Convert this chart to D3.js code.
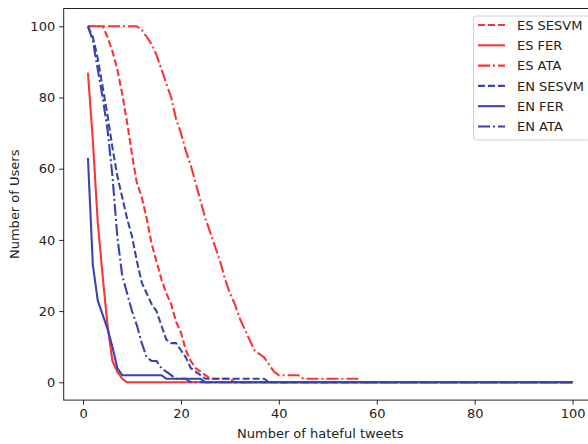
<!DOCTYPE html>
<html>
<head>
<meta charset="utf-8">
<script src="https://cdn.jsdelivr.net/npm/d3@7"></script>
<style>
  body { margin: 0; background: #fff; }
  svg { display: block; font-family: "DejaVu Sans", sans-serif; }
</style>
</head>
<body>
<div id="plot"></div>
<script>
// [tweets, users] points; straight segments between them
const esSesvm = [[1,100],[4,100],[5,97],[6,93],[7,88],[8,81],[9,73],[10,64],[11,56],[12,52],[13,46],[14,39],[15,34],[16,29],[17,25],[18,22],[19,17],[20,14],[21,9],[22,6],[23,4],[24,3],[25,2],[26,1],[30,1],[31,0],[100,0]];
const esFer = [[1,87],[2,68],[3,45],[4,30],[5,16],[6,6],[7,3],[8,1],[9,0],[100,0]];
const esAta = [[1,100],[11,100],[12,99],[13,97],[14,95],[15,92],[16,88],[17,84],[18,80],[19,74],[20,70],[21,65],[22,61],[23,56],[24,51],[25,46],[26,42],[27,38],[28,34],[29,29],[30,25],[31,22],[32,18],[33,15],[34,12],[35,9],[36,8],[37,7],[38,5],[39,3],[40,2],[44,2],[45,1],[56,1],[57,0],[100,0]];
const enSesvm = [[1,100],[2,97],[3,91],[4,83],[5,75],[6,66],[7,58],[8,52],[9,46],[10,41],[11,34],[12,28],[13,25],[14,22],[15,20],[16,16],[17,12],[18,11],[19,11],[20,9],[21,7],[22,4],[23,3],[24,2],[25,1],[37,1],[38,0],[100,0]];
const enFer = [[1,63],[2,33],[3,23],[4,19],[5,15],[6,10],[7,4],[8,2],[16,2],[17,1],[24,1],[25,0],[100,0]];
const enAta = [[1,100],[2,96],[3,88],[4,80],[5,71],[6,58],[7,41],[8,30],[9,25],[10,20],[11,16],[12,11],[13,7],[14,6],[15,6],[16,4],[17,3],[18,2],[19,1],[21,1],[22,0],[100,0]];

const seriesNames = ["ES SESVM", "ES FER", "ES ATA", "EN SESVM", "EN FER", "EN ATA"];
const seriesData = [esSesvm, esFer, esAta, enSesvm, enFer, enAta];
const xTicks = [0, 20, 40, 60, 80, 100];
const yTicks = [0, 20, 40, 60, 80, 100];

const red = "#f83434";
const blue = "#3a42b2";
const dashed = "7,3";
const dashDot = "12,3,2,3";
const styles = [
  { color: red, dash: dashed },
  { color: red, dash: null },
  { color: red, dash: dashDot },
  { color: blue, dash: dashed },
  { color: blue, dash: null },
  { color: blue, dash: dashDot },
];

const width = 588;
const height = 444;
const plotLeft = 63.7, plotRight = 596.8, plotTop = 8.5, plotBottom = 400.1;

const svg = d3.select("#plot").append("svg")
  .attr("width", width)
  .attr("height", height);

const x = d3.scaleLinear().domain([-3.95, 104.95]).range([plotLeft, plotRight]);
const y = d3.scaleLinear().domain([-5, 105]).range([plotBottom, plotTop]);

const line = d3.line()
  .x(d => x(d[0]))
  .y(d => y(d[1]));

svg.append("defs").append("clipPath").attr("id", "clip")
  .append("rect")
  .attr("x", plotLeft).attr("y", plotTop)
  .attr("width", plotRight - plotLeft).attr("height", plotBottom - plotTop);

const lines = svg.append("g").attr("clip-path", "url(#clip)");

seriesData.forEach((s, i) => {
  lines.append("path")
    .datum(s)
    .attr("d", line)
    .attr("fill", "none")
    .attr("stroke", styles[i].color)
    .attr("stroke-width", 2.1)
    .attr("stroke-linejoin", "round")
    .attr("stroke-dasharray", styles[i].dash);
});

// frame
svg.append("rect")
  .attr("x", plotLeft).attr("y", plotTop)
  .attr("width", plotRight - plotLeft).attr("height", plotBottom - plotTop)
  .attr("fill", "none")
  .attr("stroke", "#222")
  .attr("stroke-width", 1);

const xAxis = svg.append("g")
  .attr("transform", `translate(0,${plotBottom})`)
  .call(d3.axisBottom(x).tickValues(xTicks).tickSize(4.5).tickPadding(4));
const yAxis = svg.append("g")
  .attr("transform", `translate(${plotLeft},0)`)
  .call(d3.axisLeft(y).tickValues(yTicks).tickSize(4.5).tickPadding(4));

[xAxis, yAxis].forEach(g => {
  g.select(".domain").remove();
  g.selectAll("line").attr("stroke", "#222");
  g.selectAll("text")
    .attr("fill", "#222")
    .style("font-size", "13px")
    .style("font-family", "DejaVu Sans, sans-serif");
});

svg.append("text")
  .attr("x", (plotLeft + plotRight) / 2 - 10)
  .attr("y", 438)
  .attr("text-anchor", "middle")
  .attr("fill", "#222")
  .style("font-size", "13px")
  .text("Number of hateful tweets");

svg.append("text")
  .attr("transform", `translate(19,${(plotTop + plotBottom) / 2}) rotate(-90)`)
  .attr("text-anchor", "middle")
  .attr("fill", "#222")
  .style("font-size", "13px")
  .text("Number of Users");

// legend
const legend = svg.append("g");
legend.append("rect")
  .attr("x", 473.5).attr("y", 16)
  .attr("width", 117).attr("height", 124)
  .attr("rx", 3)
  .attr("fill", "#fff")
  .attr("fill-opacity", 0.8)
  .attr("stroke", "#d0d0d0");

seriesNames.forEach((name, i) => {
  const cy = 25 + i * 20.3;
  legend.append("line")
    .attr("x1", 478).attr("x2", 505)
    .attr("y1", cy).attr("y2", cy)
    .attr("stroke", styles[i].color)
    .attr("stroke-width", 2.1)
    .attr("stroke-dasharray", styles[i].dash);
  legend.append("text")
    .attr("x", 517)
    .attr("y", cy + 4.7)
    .attr("fill", "#222")
    .style("font-size", "13px")
    .text(name);
});
</script>
</body>
</html>
